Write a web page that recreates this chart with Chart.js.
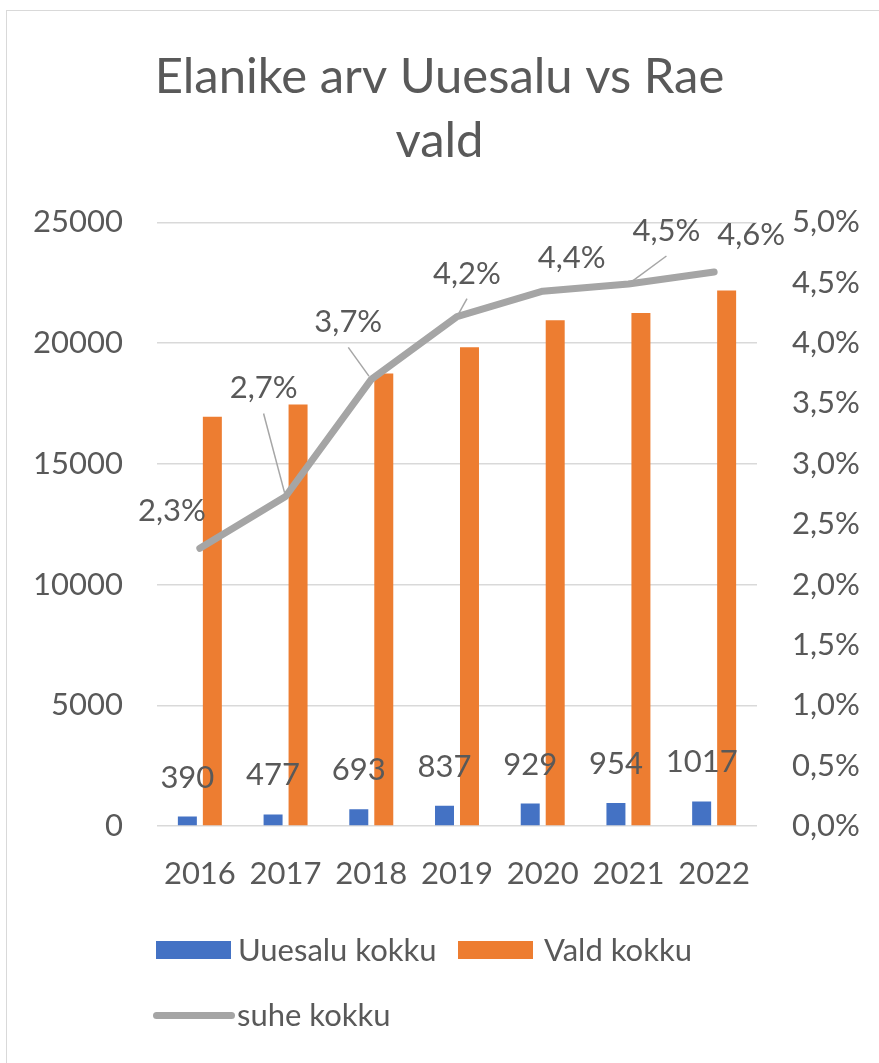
<!DOCTYPE html>
<html>
<head>
<meta charset="utf-8">
<script src="https://cdn.jsdelivr.net/npm/chart.js@4.4.0/dist/chart.umd.min.js"></script>
<style>
  body { margin: 0; background: #fff; overflow: hidden; }
  #wrap { position: relative; width: 879px; height: 1063px; }
  #frame { position: absolute; left: 6px; top: 10px; width: 900px; height: 1100px; border: 1px solid #d9d9d9; box-sizing: border-box; }
  canvas { position: absolute; left: 0; top: 0; }
  .leg { position: absolute; font-family: Lato, "Noto Sans", sans-serif; font-size: 31px; color: #595959; line-height: 1; }
  .sw { position: absolute; }
</style>
</head>
<body>
<div id="wrap">
  <div id="frame"></div>
  <canvas id="myChart" width="879" height="1063"></canvas>
  <div class="sw" style="left:156px;top:941px;width:75px;height:18px;background:#4472C4"></div>
  <div class="leg" style="left:238px;top:934px">Uuesalu kokku</div>
  <div class="sw" style="left:458px;top:941px;width:75px;height:18px;background:#ED7D31"></div>
  <div class="leg" style="left:544px;top:934px">Vald kokku</div>
  <div class="sw" style="left:153px;top:1012px;width:82px;height:7px;border-radius:4px;background:#A5A5A5"></div>
  <div class="leg" style="left:237px;top:999px">suhe kokku</div>
</div>
<script>
// andmed
const aastad = ['2016', '2017', '2018', '2019', '2020', '2021', '2022'];
const uuesalu = [390, 477, 693, 837, 929, 954, 1017];
const vald = [16950, 17460, 18740, 19830, 20950, 21250, 22180];
const suhe = [2.3, 2.73, 3.7, 4.22, 4.43, 4.49, 4.59]; // protsent
const suheSildid = ['2,3%', '2,7%', '3,7%', '4,2%', '4,4%', '4,5%', '4,6%'];

// siltide nihked punkti suhtes (Exceli käsitsi liigutatud sildid)
const suheNihked = [[-28, -37], [-22, -108], [-23, -57], [10, -43], [29, -33], [38, -53], [37, -37]];
const suheJuhtjoon = [false, true, true, true, false, true, false];

const font = 'Lato, "Noto Sans", sans-serif';
const textColor = '#595959';

const labelsPlugin = {
    id: 'labels',
    afterDatasetsDraw(chart) {
        const ctx = chart.ctx;
        ctx.save();
        ctx.font = '31px ' + font;
        ctx.fillStyle = textColor;
        ctx.textAlign = 'center';
        ctx.textBaseline = 'middle';

        // tulpade väärtused
        chart.getDatasetMeta(0).data.forEach(function (bar, i) {
            ctx.fillText(String(uuesalu[i]), bar.x, bar.y - 39);
        });

        // suhte sildid
        chart.getDatasetMeta(2).data.forEach(function (pt, i) {
            const lx = pt.x + suheNihked[i][0];
            const ly = pt.y + suheNihked[i][1];
            if (suheJuhtjoon[i]) {
                const sx = lx, sy = ly + 25;
                const dx = pt.x - sx, dy = pt.y - sy;
                const len = Math.sqrt(dx * dx + dy * dy);
                ctx.beginPath();
                ctx.strokeStyle = '#A6A6A6';
                ctx.lineWidth = 1.5;
                ctx.moveTo(sx, sy);
                ctx.lineTo(pt.x - dx / len * 4, pt.y - dy / len * 4);
                ctx.stroke();
            }
            ctx.fillText(suheSildid[i], lx, ly);
        });
        ctx.restore();
    }
};

const ctx = document.getElementById('myChart');
const mychart = new Chart(ctx, {
    type: 'bar',
    data: {
        labels: aastad,
        datasets: [
            {
                label: 'Uuesalu kokku',
                data: uuesalu,
                backgroundColor: '#4472C4',
                yAxisID: 'y',
                order: 1,
                categoryPercentage: 0.583,
                barPercentage: 0.76
            },
            {
                label: 'Vald kokku',
                data: vald,
                backgroundColor: '#ED7D31',
                yAxisID: 'y',
                order: 1,
                categoryPercentage: 0.583,
                barPercentage: 0.76
            },
            {
                type: 'line',
                label: 'suhe kokku',
                data: suhe,
                borderColor: '#A5A5A5',
                backgroundColor: '#A5A5A5',
                borderWidth: 7,
                borderCapStyle: 'round',
                borderJoinStyle: 'round',
                pointRadius: 0,
                tension: 0,
                yAxisID: 'y1',
                order: 0
            }
        ]
    },
    options: {
        responsive: false,
        animation: false,
        layout: { padding: { top: 10, bottom: 147, left: 0, right: 0 } },
        plugins: {
            legend: { display: false },
            tooltip: { enabled: false },
            title: {
                display: true,
                text: ['Elanike arv Uuesalu vs Rae', 'vald'],
                color: textColor,
                font: { family: font, size: 49, weight: 'normal', lineHeight: 1.29 },
                padding: { top: 36, bottom: 50 }
            }
        },
        scales: {
            x: {
                grid: { display: false },
                border: { display: false },
                ticks: { color: textColor, font: { family: font, size: 31 }, padding: 21, maxRotation: 0 },
                afterFit(scale) { scale.height = 90; }
            },
            y: {
                position: 'left',
                min: 0,
                max: 25000,
                grid: { color: '#D9D9D9', lineWidth: 1.5, drawTicks: false },
                border: { display: false },
                ticks: {
                    stepSize: 5000,
                    color: textColor,
                    font: { family: font, size: 31 },
                    padding: 34,
                    callback: function (v) { return String(v); }
                },
                afterFit(scale) { scale.width = 157; }
            },
            y1: {
                position: 'right',
                min: 0,
                max: 5,
                grid: { display: false, drawTicks: false },
                border: { display: false },
                ticks: {
                    stepSize: 0.5,
                    color: textColor,
                    font: { family: font, size: 31 },
                    padding: 35,
                    callback: function (v) { return v.toFixed(1).replace('.', ',') + '%'; }
                },
                afterFit(scale) { scale.width = 122; }
            }
        }
    },
    plugins: [labelsPlugin]
});
</script>
</body>
</html>
